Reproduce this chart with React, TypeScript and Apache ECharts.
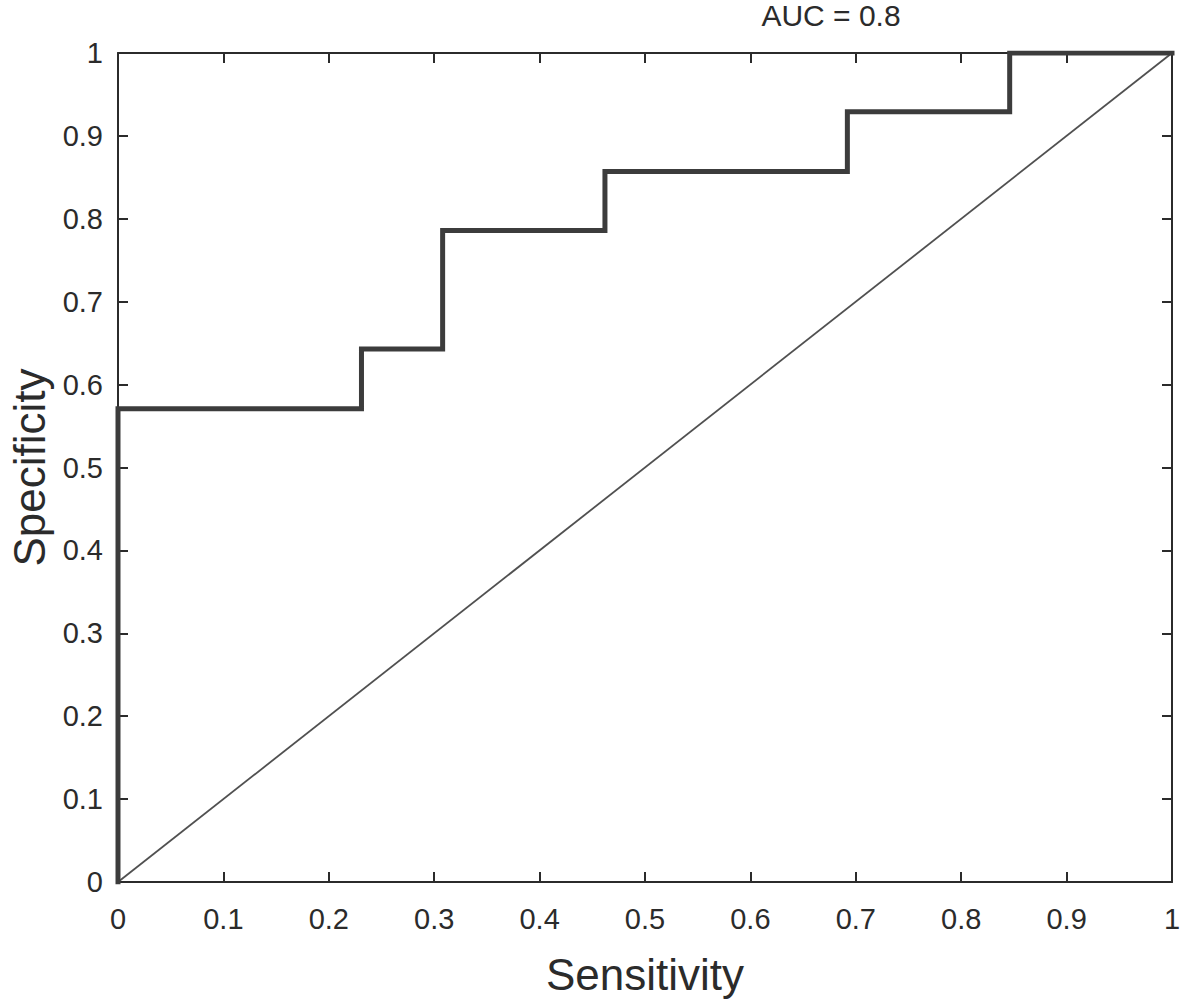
import React, { useEffect, useRef } from "react";
import * as echarts from "echarts";

// ROC curve points (Sensitivity on x, Specificity on y)
const sensitivity = [0, 0, 0.231, 0.308, 0.462, 0.692, 0.846, 1];
const specificity = [0, 0.571, 0.643, 0.786, 0.857, 0.929, 1, 1];
const diagonalX = [0, 1];
const diagonalY = [0, 1];
const titleText = "AUC = 0.8";
const xName = "Sensitivity";
const yName = "Specificity";

const FONT = "'Liberation Sans', Arial, Helvetica, sans-serif";
const AXIS_COLOR = "#2b2b2b";
const TEXT_COLOR = "#2b2b2b";

export default function App() {
  const ref = useRef<HTMLDivElement>(null);

  useEffect(() => {
    if (!ref.current) return;
    const chart = echarts.init(ref.current, undefined, { renderer: "svg" });

    const fmt = (v: number) => (v === 0 ? "0" : v === 1 ? "1" : String(Math.round(v * 10) / 10));

    const baseAxis = {
      type: "value" as const,
      min: 0,
      max: 1,
      interval: 0.1,
      splitLine: { show: false },
      axisLine: { show: true, onZero: false, lineStyle: { color: AXIS_COLOR, width: 2 } },
      axisTick: { show: true, inside: true, length: 10, lineStyle: { color: AXIS_COLOR, width: 2 } },
    };

    chart.setOption({
      animation: false,
      backgroundColor: "#ffffff",
      textStyle: { fontFamily: FONT },
      title: {
        text: titleText,
        left: 826,
        top: -5,
        textAlign: "center",
        textStyle: { fontFamily: FONT, fontSize: 30, fontWeight: "normal", color: TEXT_COLOR },
      },
      grid: { left: 118, right: 8, top: 53, bottom: 120, containLabel: false, outerBoundsMode: "none" },
      xAxis: [
        {
          ...baseAxis,
          position: "bottom",
          name: xName,
          nameLocation: "middle",
          nameGap: 70,
          nameTextStyle: { fontFamily: FONT, fontSize: 44, color: TEXT_COLOR },
          axisLabel: { show: true, margin: 22, fontSize: 29, color: TEXT_COLOR, fontFamily: FONT, formatter: fmt },
        },
        {
          ...baseAxis,
          position: "top",
          axisLabel: { show: false },
        },
      ],
      yAxis: [
        {
          ...baseAxis,
          position: "left",
          name: yName,
          nameLocation: "middle",
          nameGap: 66,
          nameTextStyle: { fontFamily: FONT, fontSize: 44, color: TEXT_COLOR },
          axisLabel: { show: true, margin: 15, fontSize: 29, color: TEXT_COLOR, fontFamily: FONT, formatter: fmt },
        },
        {
          ...baseAxis,
          position: "right",
          axisLabel: { show: false },
        },
      ],
      series: [
        {
          type: "line",
          xAxisIndex: 0,
          yAxisIndex: 0,
          data: diagonalX.map((x, i) => [x, diagonalY[i]]),
          showSymbol: false,
          symbol: "none",
          lineStyle: { color: "#505050", width: 1.8 },
          silent: true,
          z: 2,
        },
        {
          type: "line",
          xAxisIndex: 0,
          yAxisIndex: 0,
          step: "end",
          data: sensitivity.map((x, i) => [x, specificity[i]]),
          showSymbol: false,
          symbol: "none",
          lineStyle: { color: "#3c3c3c", width: 5, join: "miter", cap: "square" },
          silent: true,
          z: 3,
        },
      ],
    });

    return () => chart.dispose();
  }, []);

  return (
    <div
      ref={ref}
      style={{ position: "absolute", left: 0, top: 0, width: 1180, height: 1002 }}
    />
  );
}
